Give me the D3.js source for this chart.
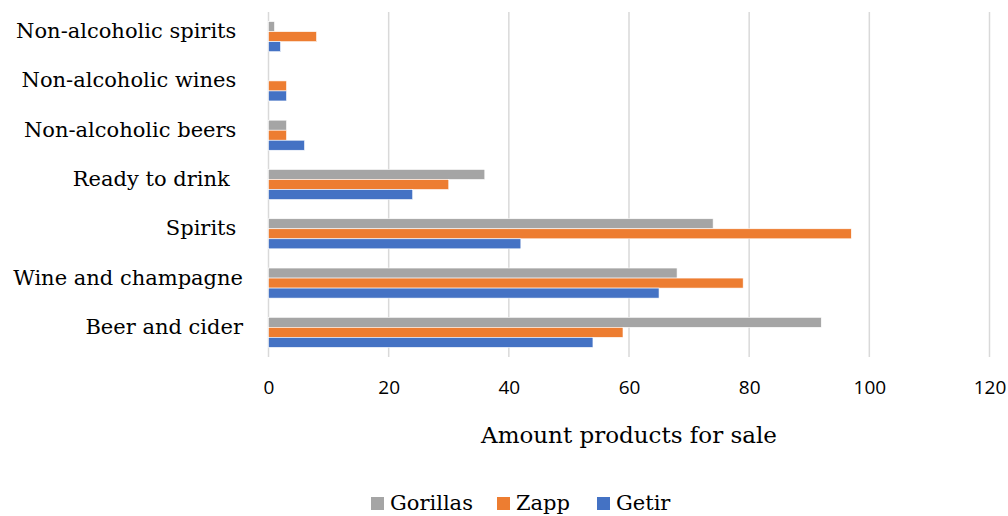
<!DOCTYPE html>
<html>
<head>
<meta charset="utf-8">
<script src="https://cdn.jsdelivr.net/npm/d3@7"></script>
<style>
  body { margin: 0; background: #fff; }
  svg text { white-space: pre; }
</style>
</head>
<body>
<svg id="chart" width="1008" height="516"></svg>
<script>
// data
const categories = ["Non-alcoholic spirits ", "Non-alcoholic wines ", "Non-alcoholic beers ",
  "Ready to drink  ", "Spirits ", "Wine and champagne", "Beer and cider"];
const seriesNames = ["Gorillas", "Zapp", "Getir"];
const gorillas = [1, 0, 3, 36, 74, 68, 92];
const zapp = [8, 3, 3, 30, 97, 79, 59];
const getir = [2, 3, 6, 24, 42, 65, 54];
const xTicks = [0, 20, 40, 60, 80, 100, 120];

const colors = ["#a5a5a5", "#ed7d31", "#4472c4"];
const serif = "'DejaVu Serif', serif";
const sans = "'Open Sans', 'Liberation Sans', sans-serif";

const rows = categories.map((c, i) => ({ cat: c, values: [gorillas[i], zapp[i], getir[i]] }));

const svg = d3.select("#chart");

// scales
const x = d3.scaleLinear().domain([0, 120]).range([268.5, 989.5]);
const y = d3.scaleBand().domain(categories).range([12, 357]).paddingInner(0.39).paddingOuter(0.195);
const ySub = d3.scaleBand().domain(seriesNames).range([0, y.bandwidth()]);

// gridlines
svg.append("g").selectAll("line")
  .data(xTicks)
  .join("line")
  .attr("x1", d => x(d)).attr("x2", d => x(d))
  .attr("y1", 12).attr("y2", 357)
  .attr("stroke", "#d9d9d9")
  .attr("stroke-width", 1.5);

// bars
const groups = svg.append("g").selectAll("g")
  .data(rows)
  .join("g")
  .attr("transform", d => `translate(0,${y(d.cat)})`);

groups.selectAll("rect")
  .data(d => d.values.map((v, k) => ({ name: seriesNames[k], v: v, k: k })))
  .join("rect")
  .attr("x", x(0))
  .attr("y", d => ySub(d.name))
  .attr("width", d => x(d.v) - x(0))
  .attr("height", ySub.bandwidth())
  .attr("fill", d => colors[d.k])
  .attr("stroke", "#fff")
  .attr("stroke-width", 0.6);

// category labels
svg.append("g").selectAll("text")
  .data(categories)
  .join("text")
  .attr("x", 243)
  .attr("y", d => y(d) + y.bandwidth() / 2 + 1.5)
  .attr("text-anchor", "end")
  .attr("font-family", serif)
  .attr("font-size", 21)
  .attr("fill", "#000")
  .text(d => d);

// x axis
const xAxis = svg.append("g")
  .attr("transform", "translate(0,387)")
  .call(d3.axisBottom(x).tickValues(xTicks).tickSize(0).tickPadding(0));
xAxis.select(".domain").remove();
xAxis.selectAll("text")
  .attr("dy", "0.35em")
  .attr("font-family", sans)
  .attr("font-size", 19)
  .attr("fill", "#000");

// axis title
svg.append("text")
  .attr("x", (x(0) + x(120)) / 2)
  .attr("y", 443)
  .attr("text-anchor", "middle")
  .attr("font-family", serif)
  .attr("font-size", 23)
  .attr("fill", "#000")
  .text("Amount products for sale");

// legend
const legendX = [371, 497, 597];
const legend = svg.append("g").selectAll("g")
  .data(seriesNames)
  .join("g")
  .attr("transform", (d, i) => `translate(${legendX[i]},510)`);
legend.append("rect")
  .attr("x", 0).attr("y", -13)
  .attr("width", 13).attr("height", 13)
  .attr("fill", (d, i) => colors[i]);
legend.append("text")
  .attr("x", 19)
  .attr("y", 0)
  .attr("font-family", serif)
  .attr("font-size", 21)
  .attr("fill", "#000")
  .text(d => d);
</script>
</body>
</html>
